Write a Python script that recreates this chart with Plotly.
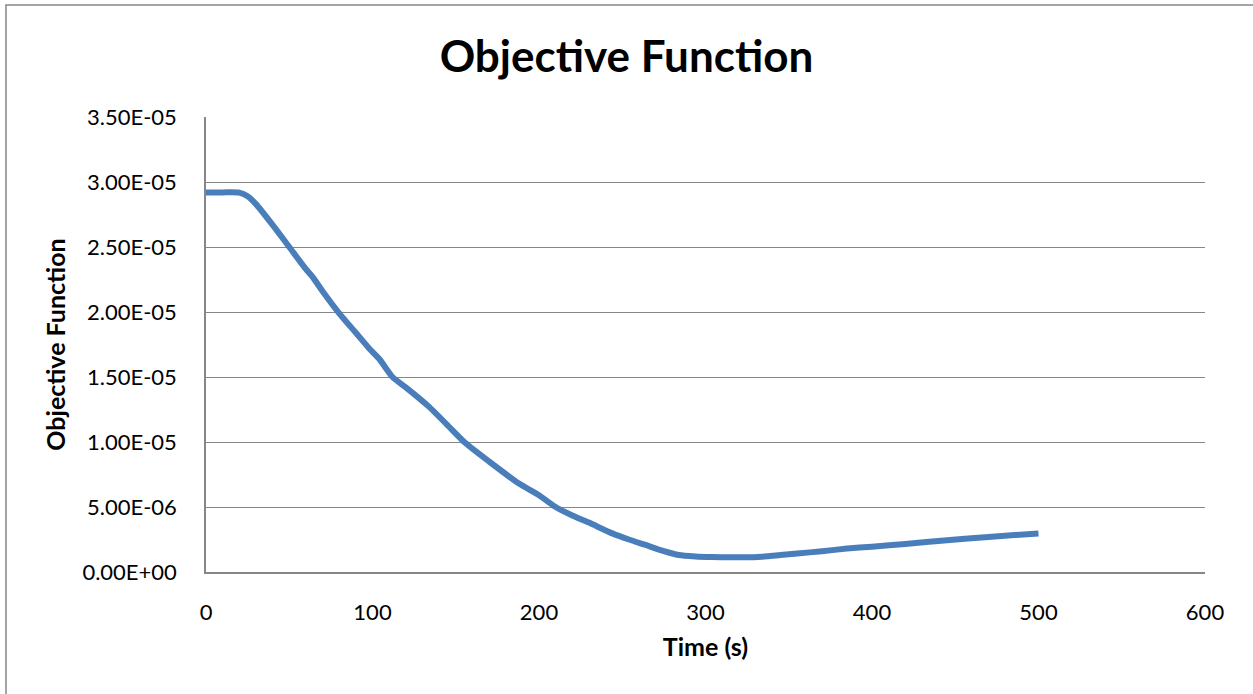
import plotly.graph_objects as go

time_s = [0, 10, 20, 25, 30, 40, 50, 60, 64, 70, 80, 90, 98, 104, 112, 120, 134, 145, 156,
          170, 188, 200, 210, 220, 230, 244, 254, 264, 274, 284, 294, 304, 314, 324, 334,
          345, 355, 370, 385, 400, 420, 445, 470, 500]
objective_e6 = [29.2, 29.2, 29.18, 28.9, 28.3, 26.7, 25.0, 23.3, 22.7, 21.6, 19.9, 18.4, 17.2,
                16.4, 15.0, 14.2, 12.7, 11.3, 9.9, 8.5, 6.8, 5.9, 5.0, 4.35, 3.8, 2.97, 2.5,
                2.08, 1.65, 1.31, 1.2, 1.15, 1.13, 1.13, 1.18, 1.3, 1.42, 1.6, 1.8, 1.95,
                2.15, 2.45, 2.7, 2.97]
objective = [v * 1e-6 for v in objective_e6]

y_tickvals = [0, 5e-6, 1e-5, 1.5e-5, 2e-5, 2.5e-5, 3e-5, 3.5e-5]
y_ticktext = ["0.00E+00", "5.00E-06", "1.00E-05", "1.50E-05", "2.00E-05", "2.50E-05",
              "3.00E-05", "3.50E-05"]
x_tickvals = [0, 100, 200, 300, 400, 500, 600]

FONT = "Lato"
GRAY = "#868686"

fig = go.Figure()
fig.add_trace(go.Scatter(x=time_s, y=objective, mode="lines",
                         line=dict(color="#4A7EBB", width=6, shape="spline", smoothing=0.6),
                         showlegend=False))

fig.update_layout(
    width=1253, height=694,
    margin=dict(l=206, r=48, t=117, b=122),
    paper_bgcolor="white", plot_bgcolor="white",
    font=dict(family=FONT, color="black"),
    title=dict(text="<b>Objective Function</b>", x=0.5, xanchor="center",
               y=1 - 57 / 694, yanchor="middle", font=dict(size=44, family=FONT)),
    xaxis=dict(range=[0, 600], tickvals=x_tickvals, showgrid=False, zeroline=False,
               showline=True, linecolor=GRAY, linewidth=1.5, ticks="",
               ticklabelstandoff=20, tickfont=dict(size=22),
               title=dict(text="<b>Time (s)</b>", font=dict(size=25), standoff=14)),
    yaxis=dict(range=[0, 3.5e-5], tickvals=y_tickvals, ticktext=y_ticktext,
               showgrid=True, gridcolor=GRAY, gridwidth=1, zeroline=False,
               showline=True, linecolor=GRAY, linewidth=1.5, ticks="",
               ticklabelstandoff=23, tickfont=dict(size=22),
               title=dict(text="<b>Objective Function</b>", font=dict(size=25), standoff=10)),
    shapes=[dict(type="rect", xref="paper", yref="paper",
                 x0=(6 - 206) / 999, x1=(1262 - 206) / 999,
                 y0=(572 - 704) / 455, y1=(572 - 5) / 455,
                 line=dict(color=GRAY, width=1.5), layer="below")],
)

fig.write_html("out.html")
